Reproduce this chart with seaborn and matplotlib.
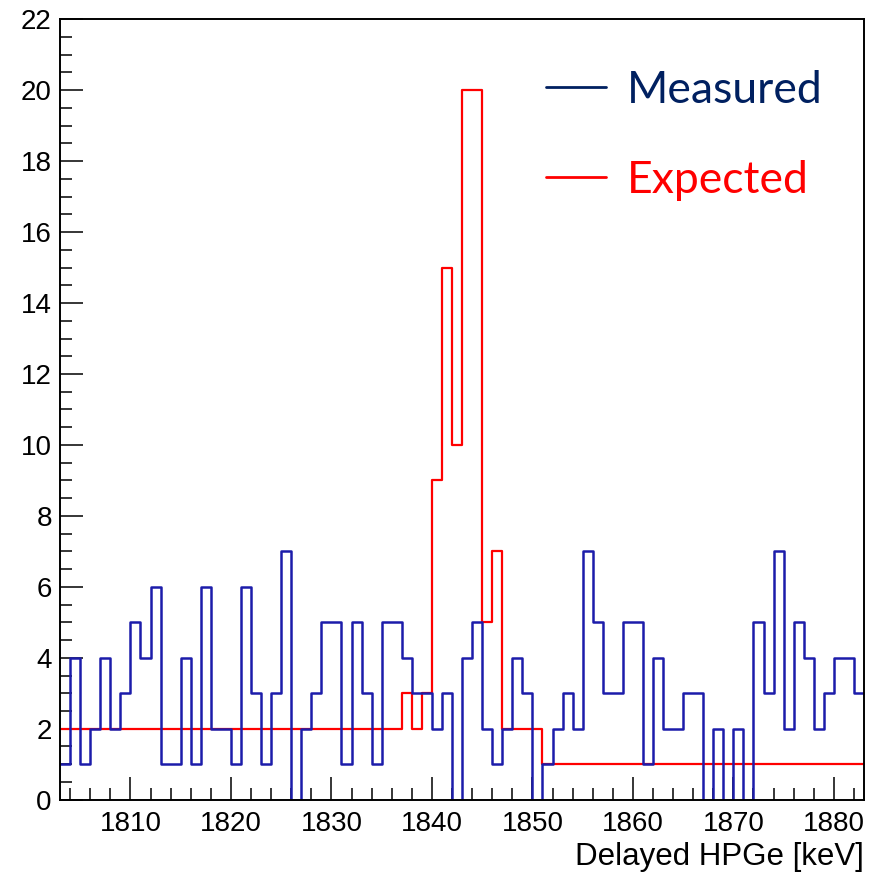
import numpy as np
import pandas as pd
import matplotlib
matplotlib.use("Agg")
import matplotlib.pyplot as plt
from matplotlib.lines import Line2D
from matplotlib.ticker import MultipleLocator
import seaborn as sns

# ── Data: 1 keV bins, lower edges 1803 .. 1882 keV ─────────────────────────
bin_lo = list(range(1803, 1883))
measured = [1, 4, 1, 2, 4, 2, 3, 5, 4, 6,
            1, 1, 4, 1, 6, 2, 2, 1, 6, 3,
            1, 3, 7, 0, 2, 3, 5, 5, 1, 5,
            3, 1, 5, 5, 4, 3, 3, 2, 3, 0,
            4, 5, 2, 1, 2, 4, 3, 0, 1, 2,
            3, 2, 7, 5, 3, 3, 5, 5, 1, 4,
            2, 2, 3, 3, 0, 2, 0, 2, 0, 5,
            3, 7, 2, 5, 4, 2, 3, 4, 4, 3]
expected = [2, 2, 2, 2, 2, 2, 2, 2, 2, 2,
            2, 2, 2, 2, 2, 2, 2, 2, 2, 2,
            2, 2, 2, 2, 2, 2, 2, 2, 2, 2,
            2, 2, 2, 2, 3, 2, 3, 9, 15, 10,
            20, 20, 5, 7, 2, 2, 2, 2, 1, 1,
            1, 1, 1, 1, 1, 1, 1, 1, 1, 1,
            1, 1, 1, 1, 1, 1, 1, 1, 1, 1,
            1, 1, 1, 1, 1, 1, 1, 1, 1, 1]
legend_labels = ["Measured", "Expected"]
xlabel = "Delayed HPGe [keV]"

BLUE = "#1c1caa"
RED = "#ff0000"
NAVY = "#002060"

df = pd.DataFrame({"energy": np.array(bin_lo) + 0.5,
                   "measured": measured, "expected": expected})
x_range = (bin_lo[0], bin_lo[-1] + 1)

sns.set_theme(style="white")
plt.rcParams["font.family"] = ["Liberation Sans", "DejaVu Sans"]

fig = plt.figure(figsize=(8.71, 8.74), dpi=100)
ax = fig.add_axes([0.069, 0.085, 0.923, 0.893])

# red first so the measured histogram sits on top
sns.histplot(data=df, x="energy", weights="expected", binwidth=1, binrange=x_range,
             element="step", fill=False, color=RED, linewidth=1.6, ax=ax)
sns.histplot(data=df, x="energy", weights="measured", binwidth=1, binrange=x_range,
             element="step", fill=False, color=BLUE, linewidth=1.8, ax=ax)

ax.set_xlim(*x_range)
ax.set_ylim(0, 22)
ax.xaxis.set_major_locator(MultipleLocator(10))
ax.xaxis.set_minor_locator(MultipleLocator(2))
ax.yaxis.set_major_locator(MultipleLocator(2))
ax.yaxis.set_minor_locator(MultipleLocator(0.5))
ax.tick_params(which="both", direction="in", bottom=True, left=True,
               top=False, right=False, color="black", width=1.1,
               labelsize=20, labelcolor="black")
ax.tick_params(which="major", length=16.5)
ax.tick_params(which="minor", length=8.5)
ax.tick_params(axis="y", pad=6)
ax.tick_params(axis="x", pad=8)
for s in ax.spines.values():
    s.set_color("black")
    s.set_linewidth(1.4)

ax.set_ylabel("")
ax.set_xlabel(xlabel, fontsize=22.5, color="black", loc="right", labelpad=4)

handles = [Line2D([], [], color=NAVY, lw=2.0), Line2D([], [], color=RED, lw=2.0)]
ax.legend(handles, legend_labels, loc="upper left", bbox_to_anchor=(0.605, 0.935),
          frameon=False, labelcolor=[NAVY, RED],
          prop={"family": "Lato", "size": 32},
          handlelength=1.35, handletextpad=0.45, labelspacing=1.1,
          borderpad=0, borderaxespad=0)

fig.savefig("out.png", dpi=100)
